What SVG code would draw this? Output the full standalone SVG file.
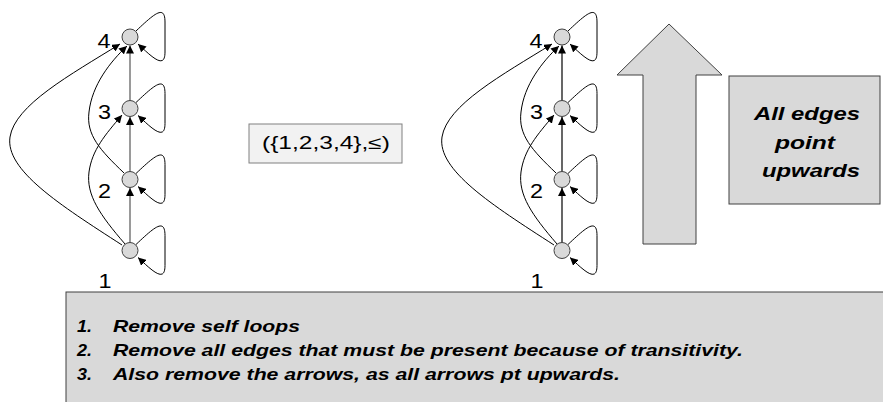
<svg xmlns="http://www.w3.org/2000/svg" width="883" height="402" viewBox="0 0 883 402">
<defs>
<marker id="ah" markerUnits="userSpaceOnUse" markerWidth="9" markerHeight="8" refX="8" refY="4" orient="auto">
<path d="M0,0 L8,4 L0,8 z" fill="#000"/>
</marker>
<style>
.node{fill:#d9d9d9;stroke:#404040;stroke-width:1}
.lbl{font-family:"Liberation Sans",Arial,sans-serif;font-size:20px;fill:#000;text-anchor:middle}
.e{fill:none;stroke:#000;stroke-width:1;marker-end:url(#ah)}
.v{fill:none;stroke:#808080;stroke-width:1.6;marker-end:url(#ah)}
.v2{fill:none;stroke:#404040;stroke-width:1.6;marker-end:url(#ah)}
.bi{font-family:"Liberation Sans",Arial,sans-serif;font-weight:bold;font-style:italic;fill:#000}
</style>
</defs>
<rect width="883" height="402" fill="#fff"/>

<g id="connectors">
<g id="left-edges">
<path class="v" d="M130,242.5 L130,188"/>
<path class="v" d="M130,171.5 L130,117"/>
<path class="v" d="M130,100.5 L130,45.5"/>
<path class="e" d="M122,245 C60,205 5,170 10,137 C15,105 70,75 120,44"/>
<path class="e" d="M125,244 C100,215 86,195 89,172 C92,150 105,135 122,115"/>
<path class="e" d="M124,173 C100,150 86,135 89,112 C92,85 110,62 127,46"/>
<path class="e" d="M136,31 C154,14 165,4 165,22 L165,52 C165,70 152,57 138,44"/>
<path class="e" d="M136,102.5 C154,85.5 165,75.5 165,93.5 L165,123.5 C165,141.5 152,128.5 138,115.5"/>
<path class="e" d="M136,173.5 C154,156.5 165,146.5 165,164.5 L165,194.5 C165,212.5 152,199.5 138,186.5"/>
<path class="e" d="M136,244.5 C154,227.5 165,217.5 165,235.5 L165,265.5 C165,283.5 152,270.5 138,257.5"/>
</g>
<g id="right-edges" transform="translate(432,0)">
<path class="v2" d="M130,242.5 L130,188"/>
<path class="v2" d="M130,171.5 L130,117"/>
<path class="v2" d="M130,100.5 L130,45.5"/>
<path class="e" d="M122,245 C60,205 5,170 10,137 C15,105 70,75 120,44"/>
<path class="e" d="M125,244 C100,215 86,195 89,172 C92,150 105,135 122,115"/>
<path class="e" d="M124,173 C100,150 86,135 89,112 C92,85 110,62 127,46"/>
<path class="e" d="M136,31 C154,14 165,4 165,22 L165,52 C165,70 152,57 138,44"/>
<path class="e" d="M136,102.5 C154,85.5 165,75.5 165,93.5 L165,123.5 C165,141.5 152,128.5 138,115.5"/>
<path class="e" d="M136,173.5 C154,156.5 165,146.5 165,164.5 L165,194.5 C165,212.5 152,199.5 138,186.5"/>
<path class="e" d="M136,244.5 C154,227.5 165,217.5 165,235.5 L165,265.5 C165,283.5 152,270.5 138,257.5"/>
</g>
</g>

<g id="L4"><circle class="node" cx="130" cy="37" r="8"/><text class="lbl" x="104" y="48" textLength="13" lengthAdjust="spacingAndGlyphs">4</text></g>
<g id="L3"><circle class="node" cx="130" cy="108.5" r="8"/><text class="lbl" x="104.5" y="119" textLength="13" lengthAdjust="spacingAndGlyphs">3</text></g>
<g id="L2"><circle class="node" cx="130" cy="179.5" r="8"/><text class="lbl" x="104.5" y="198" textLength="13" lengthAdjust="spacingAndGlyphs">2</text></g>
<g id="L1"><circle class="node" cx="130" cy="250.5" r="8"/><text class="lbl" x="105" y="288" textLength="13" lengthAdjust="spacingAndGlyphs">1</text></g>

<g id="R4"><circle class="node" cx="562" cy="37" r="8"/><text class="lbl" x="536" y="48" textLength="13" lengthAdjust="spacingAndGlyphs">4</text></g>
<g id="R3"><circle class="node" cx="562" cy="108.5" r="8"/><text class="lbl" x="536.5" y="119" textLength="13" lengthAdjust="spacingAndGlyphs">3</text></g>
<g id="R2"><circle class="node" cx="562" cy="179.5" r="8"/><text class="lbl" x="536.5" y="198" textLength="13" lengthAdjust="spacingAndGlyphs">2</text></g>
<g id="R1"><circle class="node" cx="562" cy="250.5" r="8"/><text class="lbl" x="537" y="288" textLength="13" lengthAdjust="spacingAndGlyphs">1</text></g>

<g id="poset">
<rect x="249" y="124" width="153" height="39" fill="#f2f2f2" stroke="#808080" stroke-width="1"/>
<text x="262" y="149" font-family="'Liberation Sans',Arial,sans-serif" font-size="18" textLength="128" lengthAdjust="spacingAndGlyphs">({1,2,3,4},≤)</text>
</g>

<g id="up-arrow">
<polygon points="669,24 722,75 696,75 696,244 643,244 643,75 617,75" fill="#d9d9d9" stroke="#404040" stroke-width="1"/>
</g>

<g id="note">
<rect x="729" y="76" width="151" height="128" fill="#d9d9d9" stroke="#404040" stroke-width="1"/>
<text class="bi" font-size="18" x="754" y="120" textLength="106" lengthAdjust="spacingAndGlyphs">All edges</text>
<text class="bi" font-size="18" x="775" y="149" textLength="60" lengthAdjust="spacingAndGlyphs">point</text>
<text class="bi" font-size="18" x="762" y="177" textLength="98" lengthAdjust="spacingAndGlyphs">upwards</text>
</g>

<g id="steps">
<rect x="66" y="292" width="820" height="115" fill="#d9d9d9" stroke="#404040" stroke-width="1"/>
<text class="bi" font-size="17" x="77" y="332" textLength="15" lengthAdjust="spacingAndGlyphs">1.</text>
<text class="bi" font-size="17" x="113" y="332" textLength="187" lengthAdjust="spacingAndGlyphs">Remove self loops</text>
<text class="bi" font-size="17" x="77" y="356" textLength="15" lengthAdjust="spacingAndGlyphs">2.</text>
<text class="bi" font-size="17" x="113" y="356" textLength="630" lengthAdjust="spacingAndGlyphs">Remove all edges that must be present because of transitivity.</text>
<text class="bi" font-size="17" x="77" y="380" textLength="15" lengthAdjust="spacingAndGlyphs">3.</text>
<text class="bi" font-size="17" x="113" y="380" textLength="507" lengthAdjust="spacingAndGlyphs">Also remove the arrows, as all arrows pt upwards.</text>
</g>
</svg>
